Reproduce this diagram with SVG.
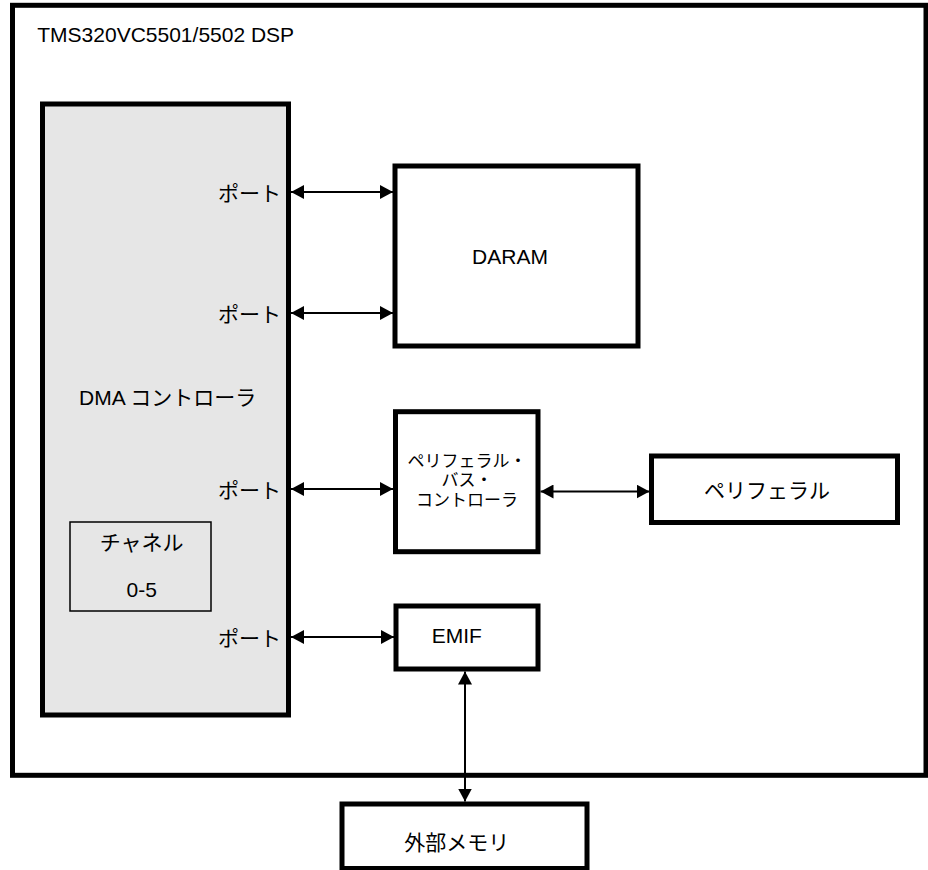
<svg xmlns="http://www.w3.org/2000/svg" width="928" height="870" viewBox="0 0 928 870">
<style>
text{font-family:"Liberation Sans","Noto Sans CJK JP",sans-serif;font-size:21px;fill:#000}
.box{fill:#fff;stroke:#000;stroke-width:5}
.c{text-anchor:middle}
.e{text-anchor:end}
.s{font-size:17px}
.conn{stroke:#000;stroke-width:2;fill:none;marker-start:url(#ah);marker-end:url(#ah)}
</style>
<defs>
<marker id="ah" viewBox="0 0 13 14" refX="13" refY="7" markerWidth="13" markerHeight="14" markerUnits="userSpaceOnUse" orient="auto-start-reverse">
<path d="M0,0 L13,7 L0,14 z" fill="#000"/>
</marker>
</defs>
<g id="dsp">
<rect x="12.5" y="5.3" width="913.5" height="770" fill="#fff" stroke="#000" stroke-width="5"/>
<text x="37.3" y="41.7">TMS320VC5501/5502 DSP</text>
</g>
<g id="dma">
<rect x="42.5" y="104" width="246" height="611" fill="#e6e6e6" stroke="#000" stroke-width="5"/>
<text x="79" y="405">DMA コントローラ</text>
<text class="e" x="281" y="201">ポート</text>
<text class="e" x="281" y="322">ポート</text>
<text class="e" x="281" y="498">ポート</text>
<text class="e" x="281" y="646">ポート</text>
</g>
<g id="channel">
<rect x="70" y="522" width="141" height="89" fill="none" stroke="#000" stroke-width="1.5"/>
<text class="c" x="141.7" y="550">チャネル</text>
<text class="c" x="141.7" y="597">0-5</text>
</g>
<g id="daram">
<rect class="box" x="395" y="166" width="243" height="180"/>
<text class="c" x="510" y="264.3">DARAM</text>
</g>
<g id="pbc">
<rect class="box" x="395.5" y="411.7" width="142.5" height="140"/>
<text class="c s" x="467" y="466.5">ペリフェラル・</text>
<text class="c s" x="467" y="486">バス・</text>
<text class="c s" x="467" y="505.5">コントローラ</text>
</g>
<g id="peripheral">
<rect class="box" x="651.5" y="456" width="246" height="66.5"/>
<text class="c" x="767" y="498">ペリフェラル</text>
</g>
<g id="emif">
<rect class="box" x="396" y="606" width="142" height="63"/>
<text x="431.7" y="642.7">EMIF</text>
</g>
<g id="extmem">
<rect class="box" x="342" y="804" width="245" height="64.5"/>
<text class="c" x="456.7" y="850">外部メモリ</text>
</g>
<g id="connectors">
<line class="conn" x1="291" y1="192" x2="393" y2="192"/>
<line class="conn" x1="291" y1="313" x2="393" y2="313"/>
<line class="conn" x1="291" y1="489" x2="393" y2="489"/>
<line class="conn" x1="291" y1="637" x2="394" y2="637"/>
<line class="conn" x1="540.5" y1="491.5" x2="649.5" y2="491.5"/>
<line class="conn" x1="465" y1="671.5" x2="465" y2="801.5"/>
</g>
</svg>
